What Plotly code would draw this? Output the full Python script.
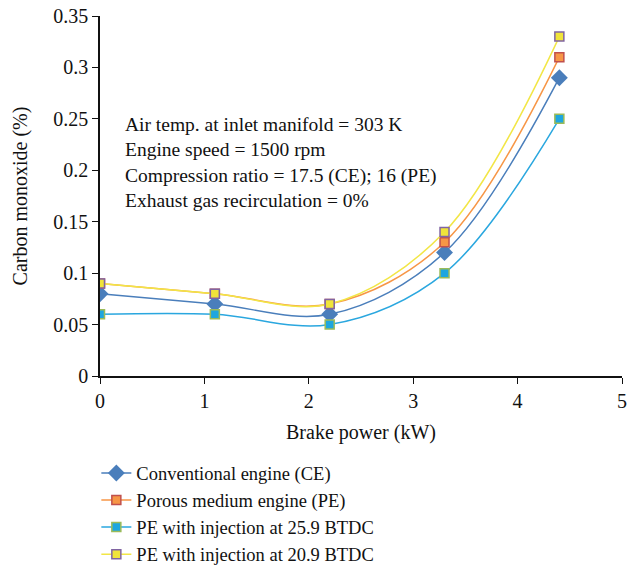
import plotly.graph_objects as go

x = [0, 1.1, 2.2, 3.3, 4.4]
ce = [0.08, 0.07, 0.06, 0.12, 0.29]
pe = [0.09, 0.08, 0.07, 0.13, 0.31]
pe259 = [0.06, 0.06, 0.05, 0.10, 0.25]
pe209 = [0.09, 0.08, 0.07, 0.14, 0.33]

names = ["Conventional engine (CE)", "Porous medium engine (PE)",
         "PE with injection at 25.9 BTDC", "PE with injection at 20.9 BTDC"]
series = [ce, pe, pe259, pe209]
line_colors = ["#4a7ebb", "#f79646", "#2aa7df", "#f2e646"]
marker_fill = ["#4a7ebb", "#f79646", "#1ea6df", "#f0e43a"]
marker_border = ["#4a7ebb", "#c0504d", "#9bbb59", "#8064a2"]
symbols = ["diamond", "square", "square", "square"]
sizes = [13, 9, 9, 9]

FONT = "Liberation Serif"
FS = 20
fig = go.Figure()
for n, s, lc, mf, mb, sym, sz in zip(names, series, line_colors, marker_fill, marker_border, symbols, sizes):
    fig.add_trace(go.Scatter(
        x=x, y=s, name=n, mode="lines+markers",
        line=dict(color=lc, width=1.5, shape="spline", smoothing=1),
        marker=dict(symbol=sym, size=sz, color=mf, line=dict(color=mb, width=1.5 if sym == "square" else 0)),
    ))

fig.add_annotation(
    x=0.22, y=0.2076, xref="x", yref="y", xanchor="left", yanchor="middle", align="left",
    showarrow=False,
    text="Air temp. at inlet manifold = 303 K<br>Engine speed = 1500 rpm<br>Compression ratio = 17.5 (CE); 16 (PE)<br>Exhaust gas recirculation = 0%",
    font=dict(family=FONT, size=19.5, color="#111"),
)

fig.update_layout(
    width=638, height=566,
    margin=dict(l=100, r=16, t=16, b=190),
    paper_bgcolor="white", plot_bgcolor="white",
    font=dict(family=FONT, size=FS, color="#111"),
    showlegend=True,
    legend=dict(x=-0.007, xref="paper", y=0.197, yref="container", xanchor="left", yanchor="top",
                font=dict(family=FONT, size=18.5), tracegroupgap=0,
                bgcolor="rgba(0,0,0,0)"),
    xaxis=dict(range=[0, 5], tickvals=[0, 1, 2, 3, 4, 5], showgrid=False, zeroline=False,
               automargin=False,
               showline=True, linecolor="#111", linewidth=1.5, ticks="outside", ticklen=6,
               tickcolor="#111", title=dict(text="Brake power (kW)", standoff=14,
               font=dict(family=FONT, size=FS))),
    yaxis=dict(range=[0, 0.35], tickvals=[0, 0.05, 0.1, 0.15, 0.2, 0.25, 0.3, 0.35],
               ticktext=["0", "0.05", "0.1", "0.15", "0.2", "0.25", "0.3", "0.35"],
               automargin=False,
               showgrid=False, zeroline=False, showline=True, linecolor="#111", linewidth=1.5,
               ticks="outside", ticklen=6, tickcolor="#111",
               title=dict(text="Carbon monoxide (%)", standoff=20, font=dict(family=FONT, size=FS))),
)

fig.write_html("out.html", config={"displayModeBar": False},
               post_script="document.body.style.margin='0px';")
